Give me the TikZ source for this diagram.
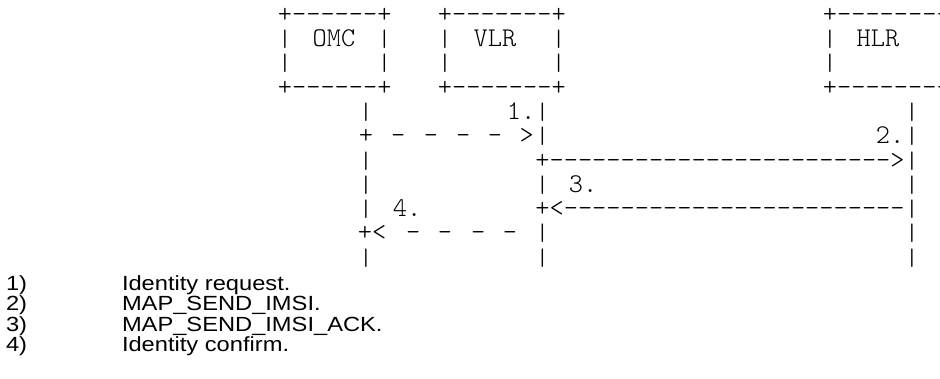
\documentclass[tikz,border=0pt]{standalone}
\usepackage{graphicx}
\usepackage{fontspec}
\newfontfamily\capfont{Liberation Sans}
\newcommand\asciibar{\scalebox{1}[0.88]{|}}
\newcommand\capwide[1]{\scalebox{1.155}[1]{#1}}
\tikzset{
  ch/.style={anchor=base, inner sep=0pt, outer sep=0pt, font=\ttfamily\fontseries{l}\fontsize{27.05}{28}\selectfont},
  chw/.style={ch, anchor=base west},
  capt/.style={anchor=base west, inner sep=0pt, outer sep=0pt, font=\capfont\fontsize{20.5}{21}\selectfont}
}
\begin{document}
\begin{tikzpicture}[x=1pt,y=-1pt]
\useasboundingbox (0,0) rectangle (940,379);
\fill[white] (0,0) rectangle (940,379);
% boxes: top and bottom borders
\node[chw] (omcT) at (277.9,22.3) {+------+};
\node[chw] (vlrT) at (437.9,22.3) {+-------+};
\node[chw] (hlrT) at (822.9,22.3) {+--------};
\node[chw] (omcB) at (277.9,95.2) {+------+};
\node[chw] (vlrB) at (437.9,95.2) {+-------+};
\node[chw] (hlrB) at (822.9,95.2) {+--------};
% box sides
\foreach \yy/\nm in {46.6/a,70.9/b}{
  \node[ch] (omcl\nm) at (285,\yy) {\asciibar};
  \node[ch] (omcr\nm) at (384.4,\yy) {\asciibar};
  \node[ch] (vlrl\nm) at (445,\yy) {\asciibar};
  \node[ch] (vlrr\nm) at (558.6,\yy) {\asciibar};
  \node[ch] (hlrl\nm) at (830,\yy) {\asciibar};
}
\node[ch] (omc) at (334,46.6) {OMC};
\node[ch] (vlr) at (495,46.6) {VLR};
\node[ch] (hlr) at (878,46.6) {HLR};
% lifelines
\foreach \yy/\nm in {119.5/4,168.1/6,192.4/7,216.7/8,265.3/10}{
  \node[ch] (omcline\nm) at (366,\yy) {\asciibar};
}
\foreach \yy/\nm in {119.5/4,143.8/5,192.4/7,241.0/9,265.3/10}{
  \node[ch] (vlrline\nm) at (542.5,\yy) {\asciibar};
}
\foreach \yy/\nm in {119.5/4,143.8/5,168.1/6,192.4/7,216.7/8,241.0/9,265.3/10}{
  \node[ch] (hlrline\nm) at (912,\yy) {\asciibar};
}
% message 1
\node[ch] (m1) at (521,119.5) {1.};
\node[ch] (m1s) at (366,143.8) {+};
\foreach \xx/\nm in {398.3/a,431/b,463.3/c,495/d}{
  \node[ch] (m1d\nm) at (\xx,143.8) {-};
}
\node[ch] (m1e) at (526.7,143.8) {>};
% message 2
\node[ch] (m2) at (890,143.8) {2.};
\node[chw] (m2a) at (535.4,168.1) {+------------------------>};
% message 3
\node[ch] (m3) at (583,192.4) {3.};
\node[chw] (m3a) at (535.4,216.7) {+<------------------------};
% message 4
\node[ch] (m4) at (407,216.7) {4.};
\node[chw] (m4s) at (357.9,241.0) {+<};
\foreach \xx/\nm in {413.3/a,445/b,478.3/c,510/d}{
  \node[ch] (m4d\nm) at (\xx,241.0) {-};
}
% legend
\node[capt] (n1) at (6,290.5) {\capwide{1)}};
\node[capt] (t1) at (122,290.5) {\capwide{Identity request.}};
\node[capt] (n2) at (6,310.8) {\capwide{2)}};
\node[capt] (t2) at (122,310.8) {\capwide{MAP\_SEND\_IMSI.}};
\node[capt] (n3) at (6,331.1) {\capwide{3)}};
\node[capt] (t3) at (122,331.1) {\capwide{MAP\_SEND\_IMSI\_ACK.}};
\node[capt] (n4) at (6,351.4) {\capwide{4)}};
\node[capt] (t4) at (122,351.4) {\capwide{Identity confirm.}};
\end{tikzpicture}
\end{document}
